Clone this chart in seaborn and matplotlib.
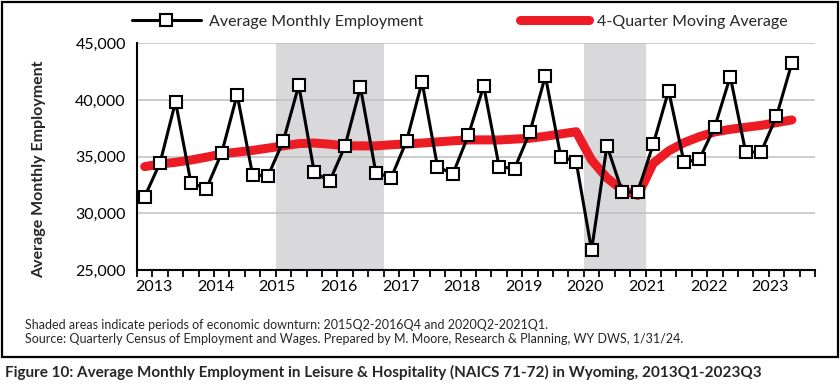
import matplotlib
matplotlib.use("Agg")
import matplotlib.pyplot as plt
import seaborn as sns
import pandas as pd
from matplotlib.patches import Rectangle
from matplotlib.ticker import FuncFormatter

# ---------------- data ----------------
years = [2013, 2014, 2015, 2016, 2017, 2018, 2019, 2020, 2021, 2022, 2023]
quarters = [f"{y}Q{q}" for y in years for q in (1, 2, 3, 4)][:43]

employment = [31470, 34470, 39850, 32700,
              32170, 35350, 40470, 33410,
              33290, 36410, 41300, 33650,
              32820, 35940, 41120, 33590,
              33150, 36410, 41590, 34120,
              33470, 36880, 41240, 34120,
              33940, 37180, 42120, 35000,
              34560, 26760, 35970, 31850,
              31910, 36090, 40820, 34500,
              34790, 37650, 42060, 35410,
              35410, 38560, 43260]

moving_avg = [34120, 34350, 34500, 34700,
              34950, 35240, 35400, 35550,
              35750, 35950, 36150, 36200,
              36100, 35950, 35950, 35950,
              36050, 36120, 36200, 36300,
              36400, 36470, 36480, 36470,
              36550, 36620, 36800, 37000,
              37200, 34700, 33120, 32060,
              31580, 34410, 35500, 36230,
              36760, 37180, 37410, 37590,
              37760, 38000, 38240]

downturns = [("2015Q2", "2016Q4"), ("2020Q2", "2021Q1")]
year_labels = [str(y) for y in years]
y_ticks = [25000, 30000, 35000, 40000, 45000]

df = pd.DataFrame({"pos": range(len(quarters)), "quarter": quarters,
                   "emp": employment, "ma": moving_avg})

# ---------------- style ----------------
sns.set_theme(style="white")
FONT = ["Lato", "DejaVu Sans"]
plt.rcParams["font.family"] = FONT

fig = plt.figure(figsize=(8.4, 3.85), dpi=100)
ax = fig.add_axes([137 / 840, 1 - 270 / 385, (815 - 137) / 840, (270 - 43.3) / 385])

# shaded downturns
for start, end in downturns:
    ax.axvspan(quarters.index(start) - 0.5, quarters.index(end) + 0.5,
               color="#d9d9dc", lw=0, zorder=0)

for v in y_ticks[1:]:
    ax.axhline(v, color="#bfbfbf", lw=1.1, zorder=0.5)

sns.lineplot(data=df, x="pos", y="ma", ax=ax, color="#ed1c24", lw=6.5,
             solid_capstyle="round", label="4-Quarter Moving Average", zorder=2)
sns.lineplot(data=df, x="pos", y="emp", ax=ax, color="black", lw=2.2,
             marker="s", markersize=8.5, markerfacecolor="white",
             markeredgecolor="black", markeredgewidth=1.5,
             label="Average Monthly Employment", zorder=3)

ax.set_xlim(-0.5, 43.5)
ax.set_ylim(25000, 45000)
ax.set_yticks(y_ticks)
ax.yaxis.set_major_formatter(FuncFormatter(lambda v, p: f"{int(v):,}"))
ax.set_xticks([4 * i + 0.6 for i in range(len(year_labels))])
ax.set_xticklabels(year_labels)
ax.set_xticks([k - 0.5 for k in range(45)], minor=True)
ax.tick_params(axis="x", which="major", length=0, pad=7, labelsize=11.5, colors="black")
ax.tick_params(axis="x", which="minor", length=5, width=1.3, color="black", direction="out", bottom=True)
ax.tick_params(axis="y", length=0, pad=8, labelsize=11.5, colors="black")
ax.set_xlabel("")
ax.set_ylabel("")
for s in ("top", "right"):
    ax.spines[s].set_visible(False)
for s in ("left", "bottom"):
    ax.spines[s].set_color("black")
    ax.spines[s].set_linewidth(1.5)

h, l = ax.get_legend_handles_labels()
order = [l.index("Average Monthly Employment"), l.index("4-Quarter Moving Average")]
ax.legend([h[i] for i in order], [l[i] for i in order], ncol=2, frameon=False,
          loc="center left", bbox_to_anchor=(132 / 840, 1 - 22 / 385),
          bbox_transform=fig.transFigure, fontsize=11.5, handlelength=4.3,
          handletextpad=0.5, columnspacing=6.1, borderpad=0, borderaxespad=0)

fig.text(39 / 840, 1 - 169 / 385, "Average Monthly Employment", rotation=90,
         ha="center", va="center", fontsize=11.5, fontweight="bold")

fig.text(25 / 840, 1 - 325 / 385,
         "Shaded areas indicate periods of economic downturn: 2015Q2-2016Q4 and 2020Q2-2021Q1.",
         ha="left", va="center", fontsize=9.0)
fig.text(25 / 840, 1 - 339 / 385,
         "Source: Quarterly Census of Employment and Wages. Prepared by M. Moore, Research & Planning, WY DWS, 1/31/24.",
         ha="left", va="center", fontsize=9.0)
fig.text(5 / 840, 1 - 372.5 / 385,
         "Figure 10: Average Monthly Employment in Leisure & Hospitality (NAICS 71-72) in Wyoming, 2013Q1-2023Q3",
         ha="left", va="center", fontsize=10.95, fontweight="bold")

fig.add_artist(Rectangle((1.5 / 840, 1 - 357 / 385), 836 / 840, 355 / 385,
                         transform=fig.transFigure, fill=False, ec="black", lw=1.6))

fig.savefig("out.png", dpi=100)
